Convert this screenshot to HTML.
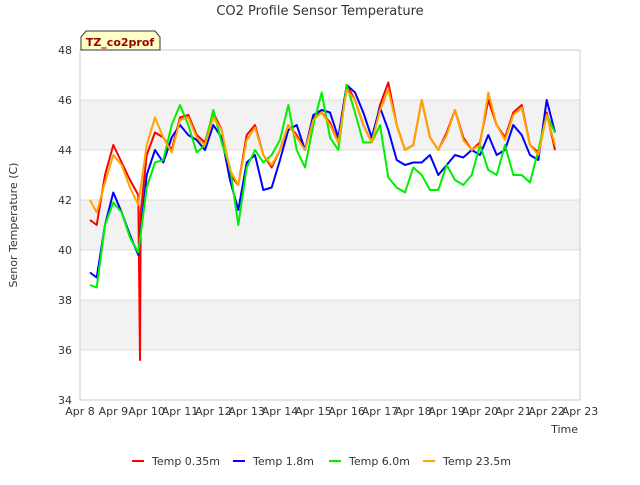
<!DOCTYPE html>
<html><head><meta charset="utf-8"><style>
body{margin:0;background:#fff;font-family:"Liberation Sans","DejaVu Sans",sans-serif}
</style></head><body>
<svg id="c" width="640" height="480" xmlns="http://www.w3.org/2000/svg" font-family="DejaVu Sans, Liberation Sans, sans-serif"></svg>
<script>
const xTickLabels=["Apr 8","Apr 9","Apr 10","Apr 11","Apr 12","Apr 13","Apr 14","Apr 15","Apr 16","Apr 17","Apr 18","Apr 19","Apr 20","Apr 21","Apr 22","Apr 23"];
const yTicks=[34,36,38,40,42,44,46,48];
const baseDays=[0.3,0.5,0.75,1,1.25,1.5,1.75,2,2.25,2.5,2.75,3,3.25,3.5,3.75,4,4.25,4.5,4.75,5,5.25,5.5,5.75,6,6.25,6.5,6.75,7,7.25,7.5,7.75,8,8.25,8.5,8.75,9,9.25,9.5,9.75,10,10.25,10.5,10.75,11,11.25,11.5,11.75,12,12.25,12.5,12.75,13,13.25,13.5,13.75,14,14.25];
const redDays=[0.3,0.5,0.75,1,1.25,1.5,1.75,1.8,1.82,2,2.25,2.5,2.75,3,3.25,3.5,3.75,4,4.25,4.5,4.75,5,5.25,5.5,5.75,6,6.25,6.5,6.75,7,7.25,7.5,7.75,8,8.25,8.5,8.75,9,9.25,9.5,9.75,10,10.25,10.5,10.75,11,11.25,11.5,11.75,12,12.25,12.5,12.75,13,13.25,13.5,13.75,14,14.25];
const temp035=[41.2,41.0,43.0,44.2,43.5,42.8,42.2,35.6,41.5,43.8,44.7,44.5,44.0,45.3,45.4,44.6,44.3,45.5,44.8,43.0,42.6,44.6,45.0,43.8,43.3,44.0,45.0,44.6,44.0,45.3,45.5,45.1,44.3,46.6,46.0,45.0,44.3,45.8,46.7,45.0,44.0,44.2,46.0,44.5,44.0,44.7,45.6,44.5,44.0,44.3,46.0,45.0,44.5,45.5,45.8,44.2,43.9,45.5,44.0];
const temp18=[39.1,38.9,41.0,42.3,41.5,40.6,39.8,43.0,44.0,43.5,44.5,45.0,44.6,44.4,44.0,45.0,44.5,42.8,41.6,43.5,43.8,42.4,42.5,43.6,44.8,45.0,44.0,45.4,45.6,45.5,44.5,46.6,46.3,45.5,44.5,45.7,44.8,43.6,43.4,43.5,43.5,43.8,43.0,43.4,43.8,43.7,44.0,43.8,44.6,43.8,44.0,45.0,44.6,43.8,43.6,46.0,44.7];
const temp60=[38.6,38.5,41.0,41.9,41.5,40.5,39.9,42.5,43.5,43.6,45.0,45.8,45.0,43.9,44.2,45.6,44.3,43.3,41.0,43.3,44.0,43.5,43.8,44.4,45.8,44.0,43.3,45.0,46.3,44.5,44.0,46.6,45.5,44.3,44.3,45.0,42.9,42.5,42.3,43.3,43.0,42.4,42.4,43.4,42.8,42.6,43.0,44.2,43.2,43.0,44.2,43.0,43.0,42.7,44.0,45.4,44.7];
const temp235=[42.0,41.5,42.7,43.8,43.4,42.5,41.8,44.2,45.3,44.5,43.9,45.2,45.3,44.5,44.2,45.3,44.8,43.2,42.6,44.4,44.9,43.8,43.4,44.0,45.0,44.5,44.0,45.2,45.5,45.0,44.3,46.4,46.0,45.0,44.3,45.6,46.4,45.0,44.0,44.2,46.0,44.5,44.0,44.6,45.6,44.4,44.0,44.2,46.3,45.0,44.4,45.4,45.7,44.2,43.8,45.4,44.2];

const svg=document.getElementById('c');const NS='http://www.w3.org/2000/svg';
const L=80,R=580,T=50,B=400;
const xs=d=>L+(R-L)*d/15, ys=v=>B-(B-T)*(v-34)/14;
function el(t,a,p){const e=document.createElementNS(NS,t);for(const k in a)e.setAttribute(k,a[k]);(p||svg).appendChild(e);return e;}
let e;
// bands
for(const lo of [36,40,44]){e=el('rect',{x:L,y:ys(lo+2),width:R-L,height:ys(lo)-ys(lo+2),fill:'#f2f2f2'});

}
yTicks.forEach(v=>{e=el('line',{x1:L,x2:R,y1:ys(v),y2:ys(v),stroke:'#dcdcdc','stroke-width':1});


e=el('text',{x:L-8,y:ys(v)+4,'text-anchor':'end','font-size':11,fill:'#333'});e.textContent=v;

});
e=el('rect',{x:L,y:T,width:R-L,height:B-T,fill:'none',stroke:'#ccc'});


xTickLabels.forEach((s,i)=>{e=el('text',{x:xs(i),y:B+15,'text-anchor':'middle','font-size':11,fill:'#333'});e.textContent=s;

});
function series(days,vals,col,name){const d=days.map((t,i)=>(i?'L':'M')+xs(t).toFixed(1)+','+ys(vals[i]).toFixed(1)).join('');
e=el('path',{d:d,fill:'none',stroke:col,'stroke-width':2,'stroke-linejoin':'round'});

}
series(redDays,temp035,'#ff0000','series-temp-0-35m');
series(baseDays,temp18,'#0000ff','series-temp-1-8m');
series(baseDays,temp60,'#00ee00','series-temp-6-0m');
series(baseDays,temp235,'#ffa500','series-temp-23-5m');
e=el('text',{x:320,y:15,'text-anchor':'middle','font-size':13,fill:'#333'});e.textContent='CO2 Profile Sensor Temperature';


e=el('text',{x:578,y:433,'text-anchor':'end','font-size':11,fill:'#333'});e.textContent='Time';


e=el('text',{x:17,y:225,'text-anchor':'middle','font-size':11,fill:'#333',transform:'rotate(-90 17 225)'});e.textContent='Senor Temperature (C)';


e=el('path',{d:'M81,50 L81,37 L86,31 L155,31 L160,37 L160,50 Z',fill:'#ffffc8',stroke:'#333'});


e=el('text',{x:120,y:46,'text-anchor':'middle','font-size':11,'font-weight':'bold',fill:'#990000'});e.textContent='TZ_co2prof';


[['Temp 0.35m','#ff0000',132],['Temp 1.8m','#0000ff',233],['Temp 6.0m','#00ee00',329],['Temp 23.5m','#ffa500',423]].forEach(([n,c,x])=>{
e=el('line',{x1:x,x2:x+12,y1:461,y2:461,stroke:c,'stroke-width':2});


e=el('text',{x:x+20,y:465,'font-size':11,fill:'#333'});e.textContent=n;

});
</script>
</body></html>
